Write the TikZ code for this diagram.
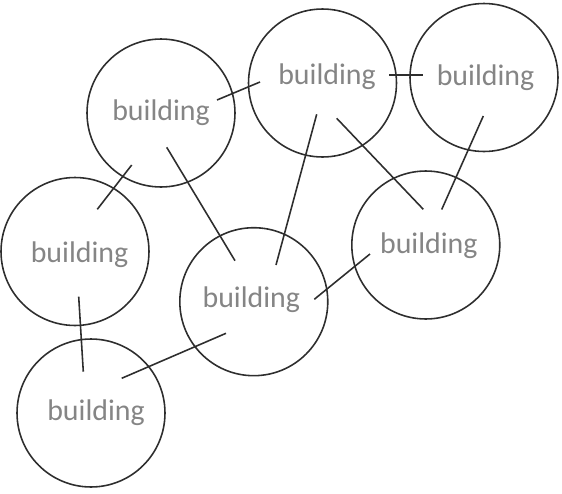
\documentclass[tikz,border=0pt]{standalone}
\usepackage{fontspec}
\setmainfont{Carlito}
\usepackage{tikz}
\usetikzlibrary{positioning, calc}
\usepackage{xcolor}
\definecolor{ringgray}{HTML}{2E2E2E}
\definecolor{labelgray}{HTML}{858585}

\begin{document}
\begin{tikzpicture}[x=0.02cm, y=-0.02cm, line width=0.9pt,
    building/.style={draw=ringgray, circle, minimum size=2.96cm, inner sep=0pt},
    bldtext/.style={text=labelgray, font=\fontsize{17}{20}\selectfont, inner sep=0pt},
    link/.style={draw=ringgray}]
        \useasboundingbox (0,0) rectangle (562,494);

        
        \node (bldA) at (161,113) [building, label={[bldtext]center:building}] {};
        \node (bldB) at (322.5,83) [building, label={[bldtext, shift={(4.5,-6)}]center:building}] {};
        \node (bldC) at (484,77.5) [building, label={[bldtext, shift={(1.5,0)}]center:building}] {};
        \node (bldD) at (75,251.5) [building, label={[bldtext, shift={(4.5,3.5)}]center:building}] {};
        \node (bldE) at (91,413) [building, label={[bldtext, shift={(5,0)}]center:building}] {};
        \node (bldF) at (253.8,301.7) [building, label={[bldtext, shift={(-2.5,-2.5)}]center:building}] {};
        \node (bldG) at (425.8,245) [building, label={[bldtext, shift={(3,1)}]center:building}] {};

        
        \draw[link] ($(bldA)+(56,-13)$) -- ($(bldB)+(-62.5,-1)$);
        \draw[link] ($(bldA)+(-29.3,52)$) -- ($(bldD)+(22.3,-42.2)$);
        \draw[link] ($(bldA)+(5.7,34.3)$) -- ($(bldF)+(-18.8,-41)$);
        \draw[link] ($(bldB)+(66.5,-8)$) -- ($(bldC)+(-61,-2.5)$);
        \draw[link] ($(bldB)+(-5.8,31.3)$) -- ($(bldF)+(22.2,-36.7)$);
        \draw[link] ($(bldB)+(14.2,35.3)$) -- ($(bldG)+(-2.5,-35.7)$);
        \draw[link] ($(bldC)+(-0.7,38.5)$) -- ($(bldG)+(15.9,-35.5)$);
        \draw[link] ($(bldD)+(3.7,45.2)$) -- ($(bldE)+(-7.7,-41.3)$);
        \draw[link] ($(bldE)+(30.7,-34.7)$) -- ($(bldF)+(-27.8,31.6)$);
        \draw[link] ($(bldF)+(60.5,-2.4)$) -- ($(bldG)+(-55.8,9)$);
    \end{tikzpicture}
\end{document}
